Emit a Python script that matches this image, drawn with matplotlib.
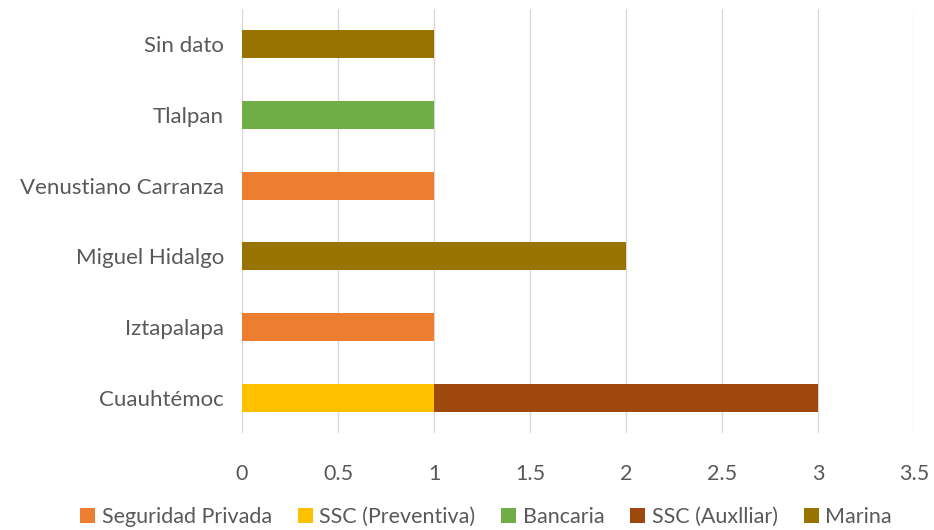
import matplotlib
matplotlib.use("Agg")
import matplotlib.pyplot as plt
import numpy as np

categories = ["Cuauhtémoc", "Iztapalapa", "Miguel Hidalgo", "Venustiano Carranza", "Tlalpan", "Sin dato"]
series_names = ["Seguridad Privada", "SSC (Preventiva)", "Bancaria", "SSC (Auxlliar)", "Marina"]
seguridad_privada = [0, 1, 0, 1, 0, 0]
ssc_preventiva = [1, 0, 0, 0, 0, 0]
bancaria = [0, 0, 0, 0, 1, 0]
ssc_auxiliar = [2, 0, 0, 0, 0, 0]
marina = [0, 0, 2, 0, 0, 1]
colors = ["#ED7D31", "#FFC000", "#70AD47", "#9E480E", "#997300"]
xticks = [0, 0.5, 1, 1.5, 2, 2.5, 3, 3.5]

plt.rcParams['font.family'] = ['Lato', 'DejaVu Sans']
txt = "#595959"

fig = plt.figure(figsize=(9.34, 5.30), dpi=100)
ax = fig.add_axes([242/934, 1 - 433/530, (914-242)/934, (433-9)/530])

y = np.arange(len(categories))
left = np.zeros(len(categories))
for name, vals, c in zip(series_names, [seguridad_privada, ssc_preventiva, bancaria, ssc_auxiliar, marina], colors):
    v = np.array(vals, dtype=float)
    ax.barh(y, v, left=left, height=0.4, color=c, label=name)
    left += v

ax.set_xlim(0, 3.5)
ax.set_ylim(-0.5, len(categories) - 0.5)
ax.set_xticks(xticks)
ax.set_xticklabels([f"{t:g}" for t in xticks])
ax.set_yticks(y)
ax.set_yticklabels(categories)
ax.tick_params(axis='both', length=0, colors=txt)
ax.tick_params(axis='x', pad=22, labelsize=15.5)
ax.tick_params(axis='y', pad=13, labelsize=16)
ax.grid(axis='x', color="#D9D9D9", linewidth=1)
ax.set_axisbelow(True)
for s in ax.spines.values():
    s.set_visible(False)

leg = fig.legend(loc='center', bbox_to_anchor=(486/934, 1 - 517/530), ncol=5, frameon=False,
                 fontsize=15.5, handlelength=0.7, handleheight=0.7, handletextpad=0.3, columnspacing=1.2)
for t in leg.get_texts():
    t.set_color(txt)

fig.savefig("out.png", dpi=100)
